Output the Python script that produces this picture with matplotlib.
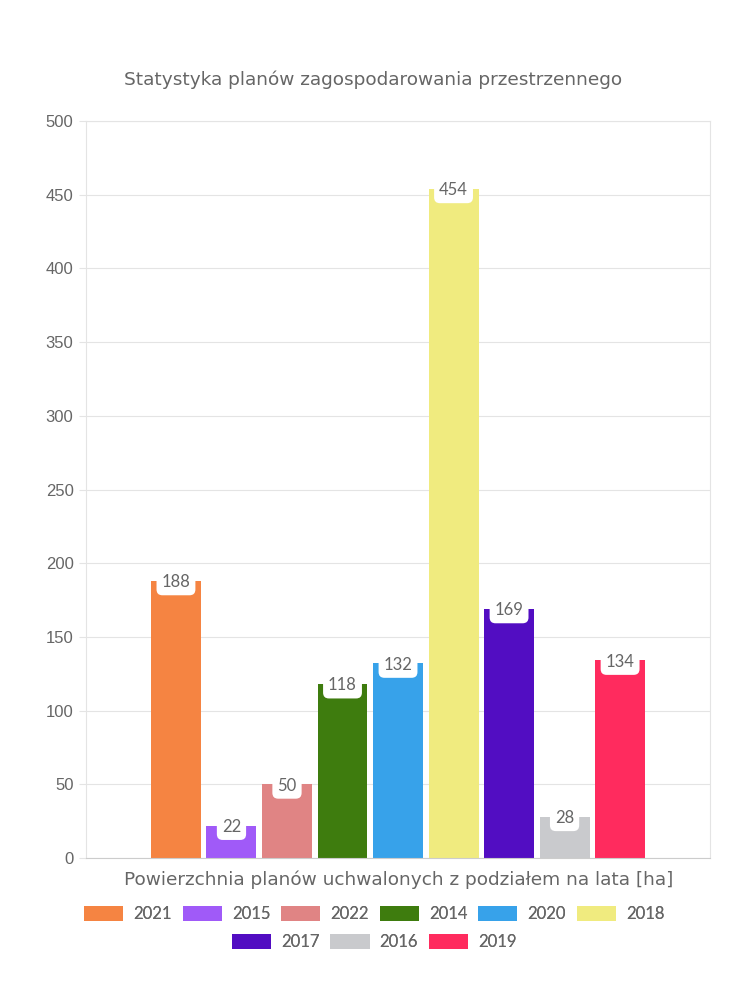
import matplotlib.pyplot as plt
from matplotlib.patches import Patch

# Dane: powierzchnia planow w podziale na lata
lata = ["2021", "2015", "2022", "2014", "2020", "2018", "2017", "2016", "2019"]
wartosci = [188, 22, 50, 118, 132, 454, 169, 28, 134]
kolory = ["#F58442", "#A05AF8", "#E08484", "#3E7C0E", "#37A2EA",
          "#F0EB7F", "#520DC2", "#C9CACD", "#FF2B5E"]
y_ticks = list(range(0, 501, 50))

SZARY = "#666666"
LINIA = "#e4e4e4"

fig = plt.figure(figsize=(7.5, 10), dpi=100)
ax = fig.add_axes([0.1147, 0.142, 0.832, 0.737])

pozycje = list(range(len(lata)))
ax.bar(pozycje, wartosci, width=0.9, color=kolory, zorder=2)

# Etykiety wartosci na bialych "zakladkach"
for x, v in zip(pozycje, wartosci):
    ax.annotate(str(v), (x, v), xytext=(0, -1), textcoords="offset points",
                ha="center", va="center", fontsize=12, color=SZARY,
                family="Lato", zorder=3,
                bbox=dict(boxstyle="round,pad=0.3,rounding_size=0.35",
                          fc="white", ec="none"))

ax.set_xlim(-1.62, len(lata) - 1 + 1.62)
ax.set_ylim(0, 500)
ax.set_yticks(y_ticks)
ax.set_xticks([])
ax.grid(axis="y", color=LINIA, linewidth=0.8, zorder=0)

for s in ["left", "right", "top"]:
    ax.spines[s].set_color(LINIA)
ax.spines["bottom"].set_color("#cccccc")
ax.tick_params(axis="y", colors=LINIA, length=5, width=0.8, pad=4,
               labelcolor=SZARY, labelsize=12)
for t in ax.get_yticklabels():
    t.set_family("Liberation Sans")

fig.text(0.4973, 0.92, "Statystyka planów zagospodarowania przestrzennego",
         ha="center", va="center", fontsize=13.3, color=SZARY,
         family="DejaVu Sans")
fig.text(0.531, 0.12, "Powierzchnia planów uchwalonych z podziałem na lata [ha]",
         ha="center", va="center", fontsize=13.3, color=SZARY,
         family="DejaVu Sans")

# Legenda w dwoch rzedach (jak w oryginale)
uchwyty = [Patch(facecolor=k, edgecolor="none") for k in kolory]
for od, do, y in [(0, 6, 0.086), (6, 9, 0.058)]:
    leg = fig.legend(uchwyty[od:do], lata[od:do], loc="center",
                     bbox_to_anchor=(0.499, y), ncol=do - od, frameon=False,
                     handlelength=2.35, handleheight=1.0, handletextpad=0.6,
                     columnspacing=0.65, labelcolor=SZARY,
                     prop={"family": "Lato", "size": 12})
    fig.add_artist(leg)

plt.savefig("out.png", dpi=100)
